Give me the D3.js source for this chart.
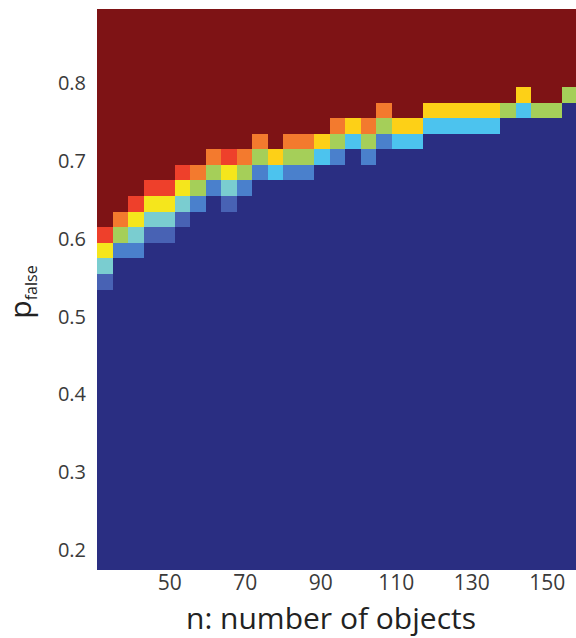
<!DOCTYPE html>
<html>
<head>
<meta charset="utf-8">
<script src="https://cdn.jsdelivr.net/npm/d3@7"></script>
<style>
  html, body { margin: 0; padding: 0; background: #ffffff; }
  svg { display: block; }
  text { font-family: "Open Sans", "Noto Sans", sans-serif; }
</style>
</head>
<body>
<svg id="chart" width="576" height="638"></svg>
<script>
// Number of objects (one column per value)
const nValues = [33, 37, 41, 45, 49, 53, 57, 61, 65, 69, 73, 77, 81, 85, 89, 93,
                 97, 101, 105, 109, 113, 117, 121, 125, 129, 133, 137, 141, 145, 149, 153];

// False-detection probability (one row per value, top to bottom)
const pValues = [0.88, 0.86, 0.84, 0.82, 0.80, 0.78, 0.76, 0.74, 0.72, 0.70, 0.68, 0.66,
                 0.64, 0.62, 0.60, 0.58, 0.56, 0.54, 0.52, 0.50, 0.48, 0.46, 0.44, 0.42,
                 0.40, 0.38, 0.36, 0.34, 0.32, 0.30, 0.28, 0.26, 0.24, 0.22, 0.20, 0.18];

// Highest p of the transition band in each column (rows above it are 1)
const bandTop = [0.60, 0.62, 0.64, 0.66, 0.66, 0.68, 0.68, 0.70, 0.70, 0.70, 0.72,
                 0.70, 0.72, 0.72, 0.72, 0.74, 0.74, 0.74, 0.76, 0.74, 0.74, 0.76,
                 0.76, 0.76, 0.76, 0.76, 0.76, 0.78, 0.76, 0.76, 0.78];

// Values inside the transition band, top to bottom (rows below it are 0)
const bandValues = [
  [0.88, 0.63, 0.45, 0.18],
  [0.80, 0.55, 0.25],
  [0.88, 0.63, 0.45, 0.25],
  [0.88, 0.63, 0.45, 0.18],
  [0.88, 0.63, 0.45, 0.18],
  [0.88, 0.63, 0.45, 0.18],
  [0.80, 0.55, 0.25],
  [0.80, 0.55, 0.25],
  [0.88, 0.63, 0.45, 0.18],
  [0.80, 0.55, 0.25],
  [0.80, 0.55, 0.25],
  [0.70, 0.38],
  [0.80, 0.55, 0.25],
  [0.80, 0.55, 0.25],
  [0.70, 0.38],
  [0.80, 0.55, 0.25],
  [0.70, 0.38],
  [0.80, 0.55, 0.25],
  [0.80, 0.55, 0.25],
  [0.70, 0.38],
  [0.70, 0.38],
  [0.70, 0.38],
  [0.70, 0.38],
  [0.70, 0.38],
  [0.70, 0.38],
  [0.70, 0.38],
  [0.55],
  [0.70, 0.38],
  [0.55],
  [0.55],
  [0.55]
];

const xTicks = [50, 70, 90, 110, 130, 150];
const yTicks = [0.2, 0.3, 0.4, 0.5, 0.6, 0.7, 0.8];

// Jet-like colour ramp
const colorStops = [0, 0.18, 0.25, 0.38, 0.45, 0.55, 0.63, 0.70, 0.80, 0.88, 1];
const colorRange = ["#2a2e82", "#4862b4", "#4a80cc", "#4cc3ee", "#7acdd0", "#a5cf59",
                    "#f5e61c", "#fdd017", "#f37a2e", "#ee402b", "#7e1315"];

// Build the grid cells
const cells = [];
nValues.forEach((n, i) => {
  const top = pValues.indexOf(bandTop[i]);
  pValues.forEach((p, j) => {
    let v;
    if (j < top) v = 1;
    else {
      const k = j - top;
      v = k < bandValues[i].length ? bandValues[i][k] : 0;
    }
    cells.push({ n, p, v });
  });
});

const plot = { left: 97, right: 577.5, top: 9, bottom: 570 };

const svg = d3.select("#chart");

const xBand = d3.scaleBand().domain(nValues).range([plot.left, plot.right]);
const yBand = d3.scaleBand().domain(pValues).range([plot.top, plot.bottom]);
const xAxisScale = d3.scaleLinear().domain([30.7, 158]).range([plot.left, plot.right]);
const yAxisScale = d3.scaleLinear().domain([0.1745, 0.8945]).range([plot.bottom, plot.top]);
const color = d3.scaleLinear().domain(colorStops).range(colorRange);

svg.append("g")
  .attr("shape-rendering", "crispEdges")
  .selectAll("rect")
  .data(cells)
  .join("rect")
  .attr("x", d => xBand(d.n))
  .attr("y", d => yBand(d.p))
  .attr("width", xBand.bandwidth())
  .attr("height", yBand.bandwidth())
  .attr("fill", d => color(d.v));

// Y tick labels
svg.append("g")
  .selectAll("text")
  .data(yTicks)
  .join("text")
  .attr("x", 86)
  .attr("y", d => yAxisScale(d))
  .attr("dy", "0.36em")
  .attr("text-anchor", "end")
  .attr("font-size", 20)
  .attr("fill", "#3a3a3a")
  .text(d => d.toFixed(1));

// X tick labels
svg.append("g")
  .selectAll("text")
  .data(xTicks)
  .join("text")
  .attr("x", d => xAxisScale(d))
  .attr("y", 590)
  .attr("text-anchor", "middle")
  .attr("font-size", 21)
  .attr("fill", "#3a3a3a")
  .text(d => d);

// Axis titles
svg.append("text")
  .attr("x", 331)
  .attr("y", 629)
  .attr("text-anchor", "middle")
  .attr("font-size", 30)
  .attr("fill", "#222")
  .text("n: number of objects");

const yTitle = svg.append("text")
  .attr("transform", "translate(31,292) rotate(-90)")
  .attr("text-anchor", "middle")
  .attr("fill", "#222");
yTitle.append("tspan").attr("font-size", 30).text("p");
yTitle.append("tspan").attr("font-size", 16).attr("dy", 6).text("false");
</script>
</body>
</html>
